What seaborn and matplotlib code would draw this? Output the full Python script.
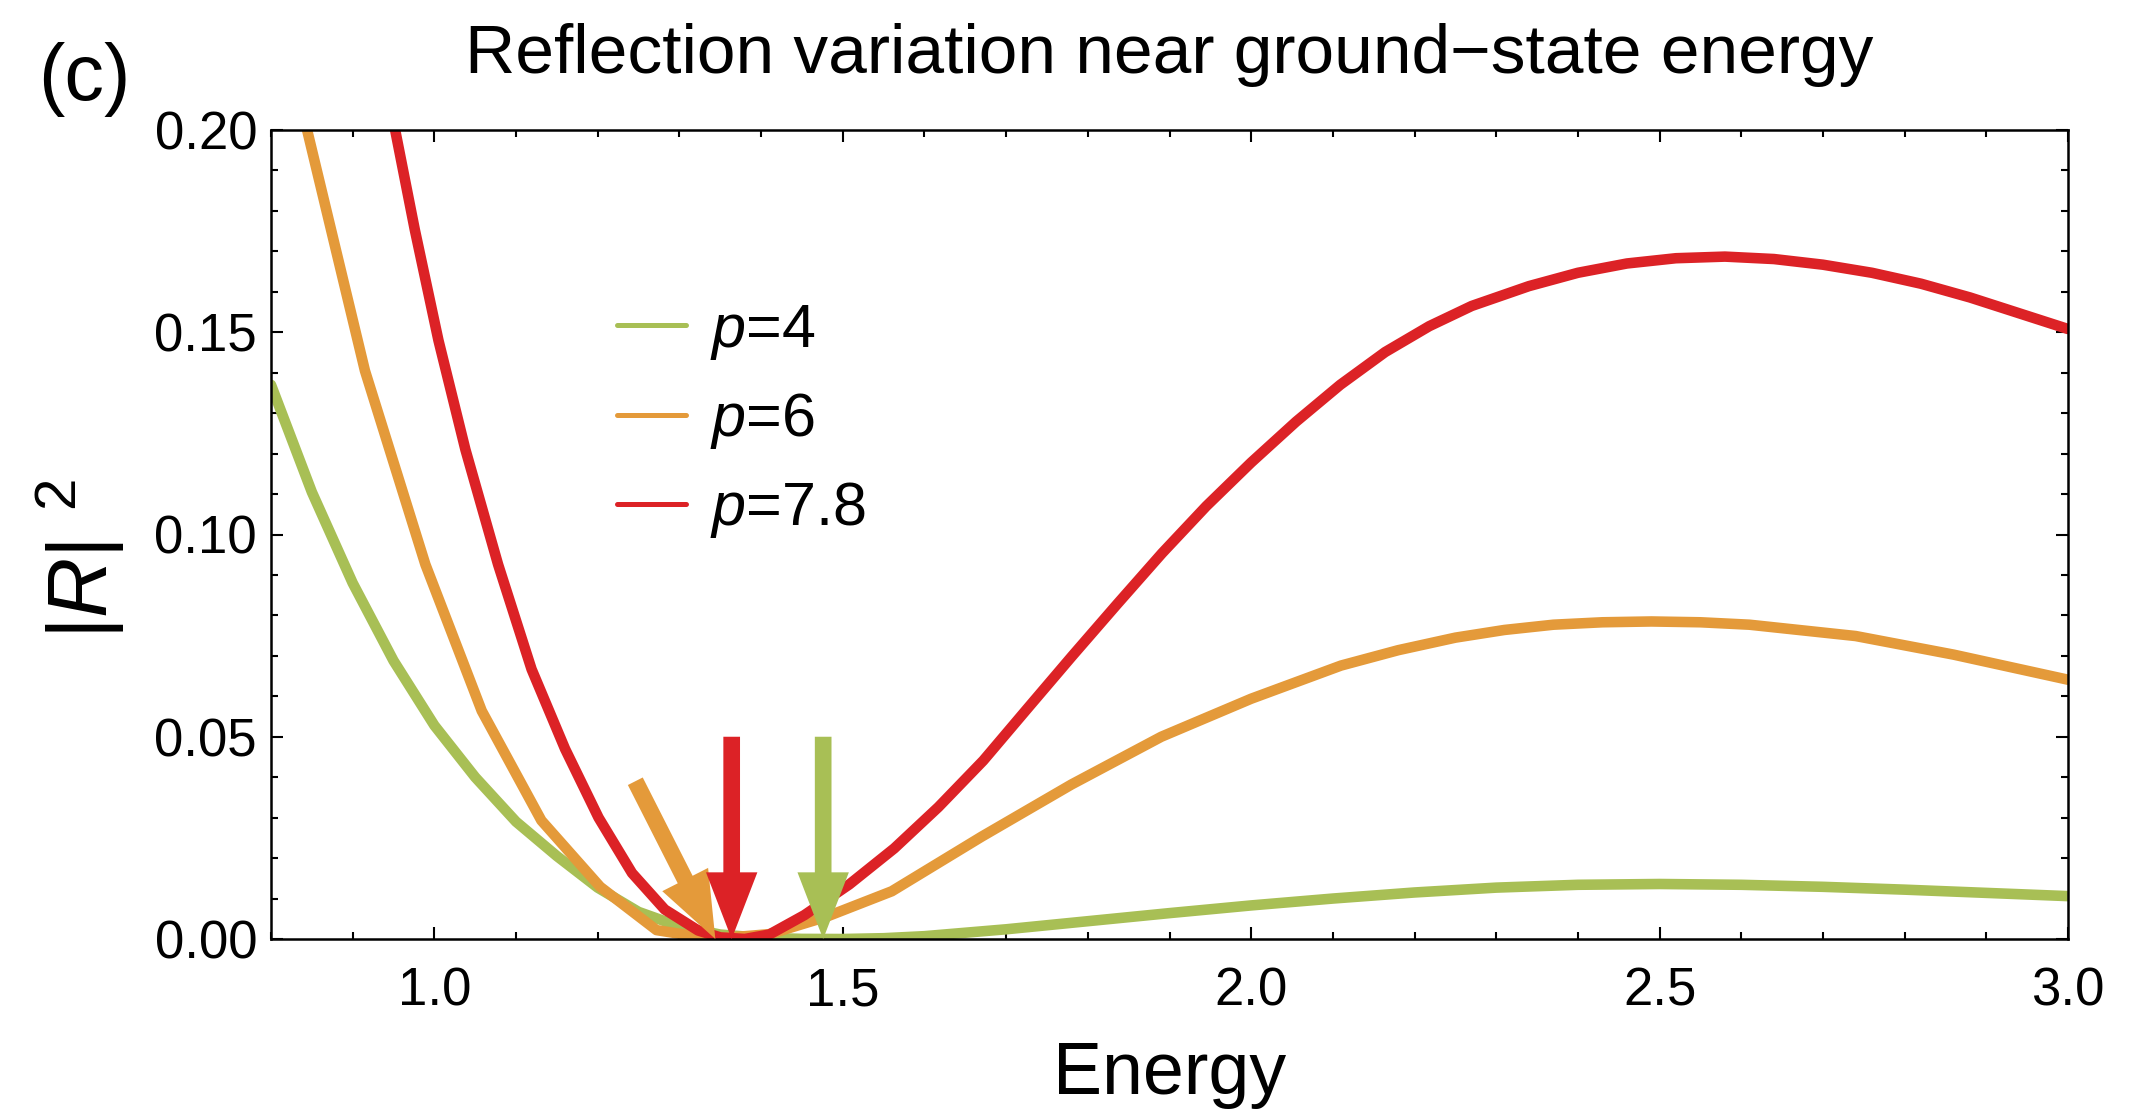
import numpy as np
import pandas as pd
import matplotlib
matplotlib.use("Agg")
import matplotlib.pyplot as plt
from matplotlib.lines import Line2D
from matplotlib.ticker import MultipleLocator, FormatStrFormatter
import seaborn as sns

# ---------------- data ----------------
title = "Reflection variation near ground\u2212state energy"
panel_label = "(c)"
x_label = "Energy"
y_label = r"$|R|^{\enspace 2}$"
series_names = [r"$p$=4", r"$p$=6", r"$p$=7.8"]
series_colors = ["#A8BF55", "#E49A3A", "#DC2226"]

p4_energy = [0.80, 0.85, 0.90, 0.95, 1.00, 1.05, 1.10, 1.15, 1.20, 1.25, 1.30, 1.35,
             1.40, 1.45, 1.50, 1.55, 1.60, 1.70, 1.80, 1.90, 2.00, 2.10, 2.20, 2.30,
             2.40, 2.50, 2.60, 2.70, 2.80, 2.90, 3.00]
p4_refl = [0.137, 0.1105, 0.088, 0.0688, 0.0528, 0.040, 0.029, 0.0205, 0.0127, 0.0067,
           0.0031, 0.0011, 0.0003, 0.00003, 0.0, 0.0002, 0.0007, 0.0024, 0.0044, 0.0064,
           0.0083, 0.0100, 0.0115, 0.0127, 0.0134, 0.0136, 0.0134, 0.0129, 0.0122,
           0.0114, 0.0106]

p6_energy = [0.80, 0.843, 0.915, 0.989, 1.058, 1.131, 1.203, 1.272, 1.34, 1.41, 1.48,
             1.56, 1.67, 1.78, 1.89, 2.00, 2.11, 2.18, 2.25, 2.31, 2.37, 2.43, 2.49,
             2.55, 2.61, 2.74, 2.86, 3.00]
p6_refl = [0.245, 0.201, 0.1405, 0.0926, 0.0564, 0.0293, 0.0129, 0.0022, 0.0, 0.0012,
           0.0055, 0.0118, 0.0253, 0.0382, 0.050, 0.0594, 0.0676, 0.0714, 0.0745, 0.0764,
           0.0777, 0.0783, 0.0785, 0.0783, 0.0777, 0.0749, 0.0703, 0.0641]

p78_energy = [0.90, 0.952, 0.976, 1.005, 1.038, 1.078, 1.119, 1.160, 1.201, 1.242, 1.282,
              1.323, 1.35, 1.38, 1.41, 1.453, 1.508, 1.563, 1.617, 1.672, 1.727, 1.781,
              1.836, 1.891, 1.945, 2.00, 2.055, 2.109, 2.164, 2.218, 2.27, 2.34, 2.40,
              2.46, 2.52, 2.58, 2.64, 2.70, 2.76, 2.82, 2.88, 2.94, 3.00]
p78_refl = [0.26, 0.200, 0.1754, 0.1480, 0.121, 0.0926, 0.0667, 0.0470, 0.0300, 0.0163,
            0.0073, 0.0021, 0.0004, 0.0, 0.0011, 0.0059, 0.0135, 0.0224, 0.0326, 0.0441,
            0.0572, 0.0700, 0.0828, 0.0954, 0.1070, 0.1178, 0.1279, 0.1370, 0.1451,
            0.1515, 0.1565, 0.1614, 0.1647, 0.1670, 0.1683, 0.1687, 0.1681, 0.1667,
            0.1647, 0.1620, 0.1586, 0.1547, 0.1508]

# ground-state arrows (same order as series)
arrow_x_start = [1.476, 1.246, 1.364]
arrow_y_start = [0.050, 0.039, 0.050]
arrow_x_end = [1.476, 1.344, 1.364]
arrow_y_end = [0.0, 0.0, 0.0]

x_limits = (0.8, 3.0)
y_limits = (0.0, 0.2)

# ---------------- style ----------------
sns.set_theme(style="ticks")
plt.rcParams["font.family"] = ["Liberation Sans", "DejaVu Sans"]
plt.rcParams["mathtext.fontset"] = "custom"
plt.rcParams["mathtext.rm"] = "Liberation Sans"
plt.rcParams["mathtext.it"] = "Liberation Sans:italic"
plt.rcParams["mathtext.bf"] = "Liberation Sans:bold"
for key in ["text.color", "axes.labelcolor", "xtick.color", "ytick.color",
            "axes.edgecolor"]:
    plt.rcParams[key] = "black"

frames = []
for name, e, r in [(series_names[0], p4_energy, p4_refl),
                   (series_names[1], p6_energy, p6_refl),
                   (series_names[2], p78_energy, p78_refl)]:
    frames.append(pd.DataFrame({"Energy": e, "R2": r, "series": name}))
df = pd.concat(frames, ignore_index=True)

fig = plt.figure(figsize=(21.5, 11.1), dpi=100)
ax = fig.add_axes([271 / 2150, 1 - 939 / 1110, (2068 - 271) / 2150, (939 - 130) / 1110])

sns.lineplot(data=df, x="Energy", y="R2", hue="series", hue_order=series_names,
             palette=series_colors, sort=False, estimator=None, linewidth=7.6,
             legend=False, ax=ax)

for xs, ys, xe, ye, c in zip(arrow_x_start, arrow_y_start, arrow_x_end, arrow_y_end,
                             series_colors):
    ax.annotate("", xy=(xe, ye), xytext=(xs, ys),
                arrowprops=dict(width=12, headwidth=37, headlength=48,
                                facecolor=c, edgecolor="none", shrink=0),
                zorder=5)

ax.set_xlim(*x_limits)
ax.set_ylim(*y_limits)
ax.xaxis.set_major_locator(MultipleLocator(0.5))
ax.xaxis.set_minor_locator(MultipleLocator(0.1))
ax.yaxis.set_major_locator(MultipleLocator(0.05))
ax.yaxis.set_minor_locator(MultipleLocator(0.01))
ax.xaxis.set_major_formatter(FormatStrFormatter("%.1f"))
ax.yaxis.set_major_formatter(FormatStrFormatter("%.2f"))

ax.tick_params(which="both", direction="in", top=True, right=True, color="black",
               width=1.5)
ax.tick_params(which="major", length=8.6, labelsize=38, labelcolor="black")
ax.tick_params(which="minor", length=5)
ax.tick_params(axis="x", which="major", pad=20)
ax.tick_params(axis="y", which="major", pad=10)
for s in ax.spines.values():
    s.set_linewidth(1.8)
    s.set_color("black")
    s.set_visible(True)

ax.set_xlabel(x_label, fontsize=53)
ax.set_ylabel(y_label, fontsize=60)
ax.xaxis.set_label_coords(0.5, -0.125)
ax.yaxis.set_label_coords(-0.08, 0.47)

ax.text(0.5, (939 - 73) / 809, title, transform=ax.transAxes, fontsize=50,
        ha="center", va="baseline")

fig.text(38 / 2150, 1 - 100 / 1110, panel_label, fontsize=57, ha="left", va="baseline")

handles = [Line2D([0], [0], color=c, linewidth=3.6) for c in series_colors]
ax.legend(handles, series_names, loc="upper left", bbox_to_anchor=(0.1925, 0.7866),
          frameon=False, fontsize=44, handlelength=1.13, handletextpad=0.39,
          labelspacing=0.48, borderaxespad=0, borderpad=0)

fig.savefig("out.png", dpi=100)
